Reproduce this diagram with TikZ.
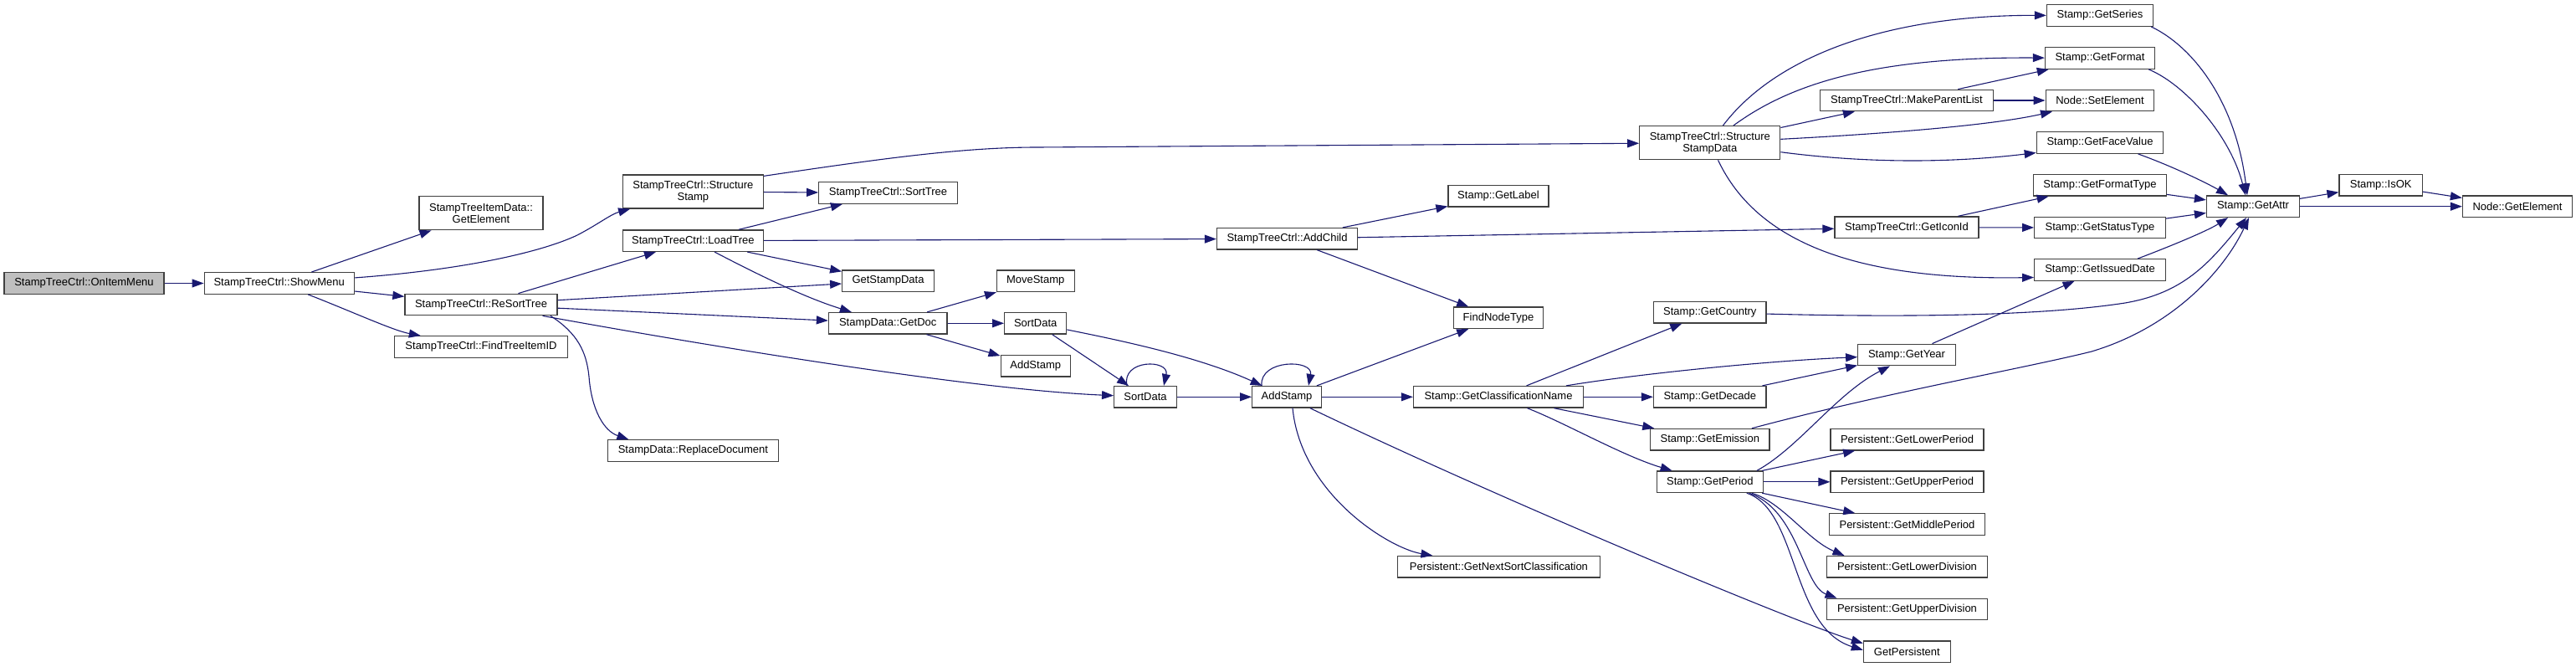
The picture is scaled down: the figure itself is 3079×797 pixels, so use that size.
\documentclass[tikz,border=0pt]{standalone}
\usepackage{fontspec}
\setmainfont{Liberation Sans}
\usetikzlibrary{arrows.meta,calc}
\definecolor{edgeblue}{HTML}{191970}
\definecolor{rootgray}{HTML}{BFBFBF}
\definecolor{boxline}{HTML}{404040}
\begin{document}
\begin{tikzpicture}[x=1pt,y=-1pt,
  fn/.style={draw=boxline, line width=1.3pt, fill=white, inner sep=0pt, minimum height=25.5pt, font=\fontsize{13}{14}\selectfont, align=center},
  fn2/.style={fn, minimum height=40pt},
  call/.style={draw=edgeblue, line width=1.1pt, -{Triangle[length=14pt,width=10pt]}},
]
\useasboundingbox (0,0) rectangle (3079,797);

\node[fn, fill=rootgray, minimum width=191pt] (oim) at (100.5,338.5) {StampTreeCtrl::OnItemMenu};
\node[fn, minimum width=179pt] (sm) at (333.7,338.5) {StampTreeCtrl::ShowMenu};
\node[fn2, minimum width=148pt] (tide) at (575,254.7) {StampTreeItemData::\\GetElement};
\node[fn, minimum width=182pt] (rst) at (575,364) {StampTreeCtrl::ReSortTree};
\node[fn, minimum width=207pt] (ftid) at (575,414.5) {StampTreeCtrl::FindTreeItemID};
\node[fn2, minimum width=168pt] (ss) at (828.4,229) {StampTreeCtrl::Structure\\Stamp};
\node[fn, minimum width=168pt] (lt) at (828.4,287.7) {StampTreeCtrl::LoadTree};
\node[fn, minimum width=204pt] (rd) at (828.4,538.5) {StampData::ReplaceDocument};
\node[fn, minimum width=165.5pt] (st) at (1061.5,230.5) {StampTreeCtrl::SortTree};
\node[fn, minimum width=109.5pt] (gsd) at (1061.5,335.8) {GetStampData};
\node[fn, minimum width=141.4pt] (gd) at (1061.2,386.3) {StampData::GetDoc};
\node[fn, minimum width=93pt] (ms) at (1237.7,335.8) {MoveStamp};
\node[fn, minimum width=74pt] (sd1) at (1237.7,386.3) {SortData};
\node[fn, minimum width=83pt] (as1) at (1237.7,437.3) {AddStamp};
\node[fn, minimum width=74.6pt] (sd2) at (1369,474.3) {SortData};
\node[fn, minimum width=168pt] (ac) at (1538.5,285.3) {StampTreeCtrl::AddChild};
\node[fn, minimum width=82.6pt] (as2) at (1538,474.3) {AddStamp};
\node[fn2, minimum width=168pt] (ssd) at (2043.8,170.7) {StampTreeCtrl::Structure\\StampData};
\node[fn, minimum width=120pt] (gl) at (1791,234.3) {Stamp::GetLabel};
\node[fn, minimum width=106.5pt] (fnt) at (1791,379.8) {FindNodeType};
\node[fn, minimum width=203pt] (gcn) at (1791,474.3) {Stamp::GetClassificationName};
\node[fn, minimum width=241.6pt] (nsc) at (1791.4,677.3) {Persistent::GetNextSortClassification};
\node[fn, minimum width=134.5pt] (gc) at (2043.8,373.3) {Stamp::GetCountry};
\node[fn, minimum width=134.5pt] (gde) at (2043.8,474.3) {Stamp::GetDecade};
\node[fn, minimum width=142.4pt] (gem) at (2043.8,525.2) {Stamp::GetEmission};
\node[fn, minimum width=126.7pt] (gp) at (2043.8,575.8) {Stamp::GetPeriod};
\node[fn, minimum width=207pt] (mpl) at (2279,120) {StampTreeCtrl::MakeParentList};
\node[fn, minimum width=172pt] (gii) at (2279,271.7) {StampTreeCtrl::GetIconId};
\node[fn, minimum width=116.5pt] (gy) at (2279,424) {Stamp::GetYear};
\node[fn, minimum width=182.8pt] (glp) at (2279.5,525.2) {Persistent::GetLowerPeriod};
\node[fn, minimum width=182.8pt] (gup) at (2279.5,575.8) {Persistent::GetUpperPeriod};
\node[fn, minimum width=185.8pt] (gmp) at (2279.5,626.5) {Persistent::GetMiddlePeriod};
\node[fn, minimum width=192.6pt] (gld) at (2279.5,677.3) {Persistent::GetLowerDivision};
\node[fn, minimum width=192.6pt] (gud) at (2279.5,728) {Persistent::GetUpperDivision};
\node[fn, minimum width=103.7pt] (gper) at (2279.3,778.7) {GetPersistent};
\node[fn, minimum width=127pt] (gse) at (2510,18.5) {Stamp::GetSeries};
\node[fn, minimum width=131pt] (gf) at (2510,69.5) {Stamp::GetFormat};
\node[fn, minimum width=129.6pt] (nse) at (2510,120) {Node::SetElement};
\node[fn, minimum width=151.3pt] (gfv) at (2510,170.5) {Stamp::GetFaceValue};
\node[fn, minimum width=158.6pt] (gft) at (2510,221.3) {Stamp::GetFormatType};
\node[fn, minimum width=156.6pt] (gst) at (2510,272) {Stamp::GetStatusType};
\node[fn, minimum width=156.6pt] (gid) at (2510,322.5) {Stamp::GetIssuedDate};
\node[fn, minimum width=111pt] (ga) at (2693,246.7) {Stamp::GetAttr};
\node[fn, minimum width=99.3pt] (ok) at (2845.7,221.3) {Stamp::IsOK};
\node[fn, minimum width=131pt] (nge) at (3009,246.7) {Node::GetElement};

\draw[call] (oim) -- (sm);
\draw[call] (sm) -- (tide);
\draw[call] (sm) .. controls (560,322) and (650,300) .. (690,281) .. controls (715,268) and (730,256) .. (ss);
\draw[call] (sm) -- (rst);
\draw[call] (sm) .. controls (420,372) and (470,395) .. (ftid);
\draw[call] (rst) -- (lt);
\draw[call] (rst) -- (gsd);
\draw[call] (rst) -- (gd);
\draw[call] ([xshift=83pt]rst.south) .. controls (690,398) and (701,420) .. (704,450) .. controls (707,490) and (722,515) .. ([xshift=-77pt]rd.north);
\draw[call] (rst) .. controls (800,405) and (1150,465) .. (sd2);
\draw[call] (ss) -- (st);
\draw[call] ([yshift=-2pt]ss.north east) .. controls (1050,190) and (1150,176) .. (1240,176) -- (ssd);
\draw[call] (lt) -- (st);
\draw[call] (lt) -- (ac);
\draw[call] (lt) -- (gsd);
\draw[call] (lt) .. controls (900,325) and (960,355) .. (gd);
\draw[call] (gd) -- (ms);
\draw[call] (gd) -- (sd1);
\draw[call] (gd) -- (as1);
\draw[call] (sd1) -- (sd2);
\draw[call] (sd1) .. controls (1330,405) and (1430,425) .. (as2);
\draw[call] ([xshift=-22pt]sd2.north) .. controls (1340,429) and (1398,429) .. ([xshift=22pt]sd2.north);
\draw[call] (sd2) -- (as2);
\draw[call] ([xshift=-30pt]as2.north) .. controls (1505,429) and (1570,429) .. ([xshift=26pt]as2.north);
\draw[call] (as2) -- (fnt);
\draw[call] (as2) -- (gcn);
\draw[call] ([xshift=7pt]as2.south) .. controls (1555,590) and (1660,655) .. ([xshift=-79pt]nsc.north);
\draw[call] (as2) .. controls (1800,600) and (2150,745) .. ([yshift=10pt]gper.west);
\draw[call] (ac) -- (gl);
\draw[call] (ac) -- (gii);
\draw[call] (ac) -- (fnt);
\draw[call] (ssd) .. controls (2120,70) and (2250,18) .. (gse);
\draw[call] (ssd) .. controls (2140,100) and (2240,68) .. (gf);
\draw[call] (ssd) -- (mpl);
\draw[call] (ssd) .. controls (2250,160) and (2380,150) .. ([xshift=-57pt]nse.south);
\draw[call] (ssd) .. controls (2230,195) and (2330,195) .. ([yshift=-12pt]gfv.west);
\draw[call] (ssd) .. controls (2100,290) and (2220,335) .. ([yshift=-9pt]gid.west);
\draw[call] (mpl) -- (gf);
\draw[call] (mpl) -- (nse);
\draw[call] (gii) -- (gft);
\draw[call] (gii) -- (gst);
\draw[call] (gcn) -- (gc);
\draw[call] (gcn) .. controls (1950,448) and (2100,432) .. (gy);
\draw[call] (gcn) -- (gde);
\draw[call] (gcn) -- (gem);
\draw[call] (gcn) .. controls (1870,505) and (1940,545) .. (gp);
\draw[call] (gc) .. controls (2300,380) and (2450,376) .. (2540,362) .. controls (2610,350) and (2640,315) .. ([xshift=-8pt]ga.south);
\draw[call] (gy) -- (gid);
\draw[call] (gde) -- (gy);
\draw[call] (gem) .. controls (2250,470) and (2420,440) .. (2500,420) .. controls (2600,390) and (2660,320) .. ([xshift=-5pt]ga.south);
\draw[call] ([xshift=56pt]gp.north) .. controls (2150,535) and (2195,470) .. ([xshift=-20pt]gy.south);
\draw[call] (gp) -- (glp);
\draw[call] (gp) -- (gup);
\draw[call] (gp) -- (gmp);
\draw[call] ([xshift=50pt]gp.south) .. controls (2130,600) and (2160,645) .. ([xshift=-75pt]gld.north);
\draw[call] ([xshift=47pt]gp.south) .. controls (2150,610) and (2155,700) .. ([xshift=-84pt]gud.north);
\draw[call] ([xshift=44pt]gp.south) .. controls (2150,610) and (2140,750) .. ([yshift=2pt]gper.west);
\draw[call] ([xshift=-3pt]gse.south east) .. controls (2620,55) and (2672,120) .. ([xshift=-7pt]ga.north);
\draw[call] ([xshift=-8pt]gf.south east) .. controls (2610,100) and (2665,160) .. ([xshift=-9pt]ga.north);
\draw[call] ([xshift=45.5pt]gfv.south) .. controls (2600,200) and (2640,220) .. ([xshift=-30pt]ga.north);
\draw[call] (gft) -- (ga);
\draw[call] (gst) -- (ga);
\draw[call] ([xshift=45pt]gid.north) .. controls (2600,292) and (2640,275) .. ([xshift=-30pt]ga.south);
\draw[call] (ga) -- (ok);
\draw[call] (ga) -- (nge);
\draw[call] (ok) -- (nge);
\end{tikzpicture}
\end{document}
